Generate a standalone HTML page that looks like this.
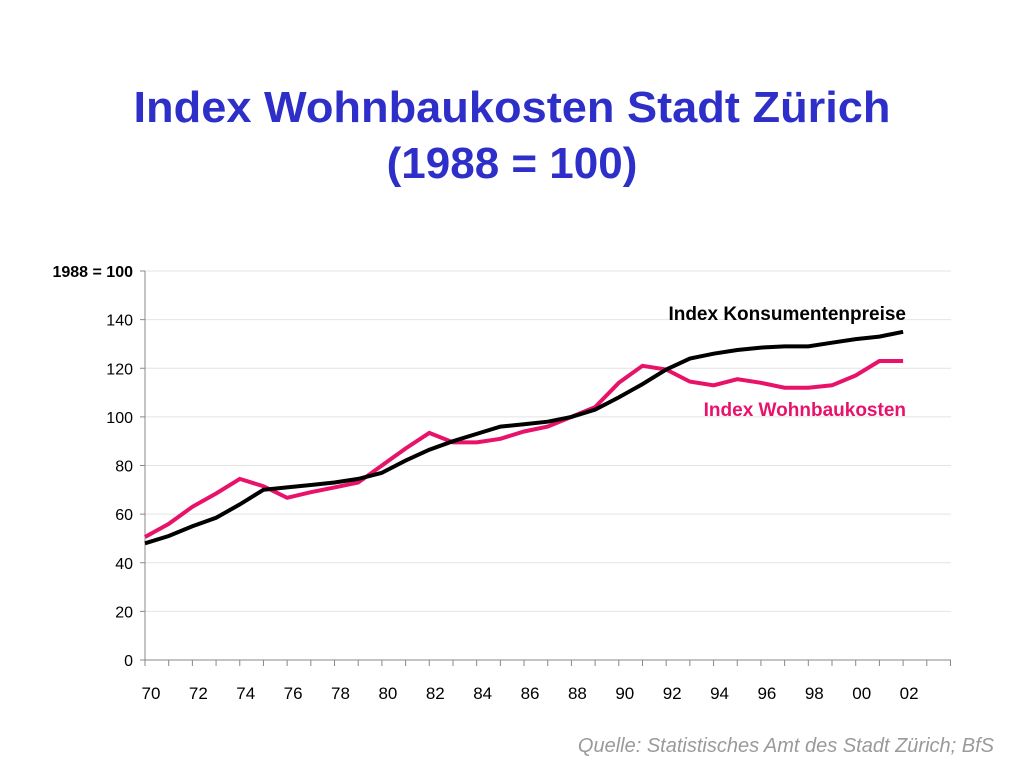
<!DOCTYPE html>
<html><head><meta charset="utf-8"><style>
html,body{margin:0;padding:0;background:#fff;}
svg{display:block;font-family:"Liberation Sans",Arial,sans-serif;}
</style></head><body>
<svg id="chart" width="1024" height="768" viewBox="0 0 1024 768">
<text x="512" y="122" text-anchor="middle" font-size="44" font-weight="bold" fill="#2e2ec8" textLength="757" lengthAdjust="spacingAndGlyphs">Index Wohnbaukosten Stadt Zürich</text>
<text x="512" y="178" text-anchor="middle" font-size="44" font-weight="bold" fill="#2e2ec8">(1988 = 100)</text>
<g id="grid"></g>
<g id="axes"></g>
<g id="series"></g>
<text x="906" y="320" text-anchor="end" font-size="19" font-weight="bold" fill="#000">Index Konsumentenpreise</text>
<text x="906" y="416" text-anchor="end" font-size="19" font-weight="bold" fill="#e8126a">Index Wohnbaukosten</text>
<text x="994" y="752" text-anchor="end" font-size="20" font-style="italic" fill="#9a9a9a">Quelle: Statistisches Amt des Stadt Zürich; BfS</text>
</svg>
<script>
const years = [1970,1971,1972,1973,1974,1975,1976,1977,1978,1979,1980,1981,1982,1983,1984,1985,1986,1987,1988,1989,1990,1991,1992,1993,1994,1995,1996,1997,1998,1999,2000,2001,2002];
const konsumentenpreise = [48,51,55,58.5,64,70,71,72,73,74.5,77,82,86.5,90,93,96,97,98,100,103,108,113.5,119.5,124,126,127.5,128.5,129,129,130.5,132,133,135];
const wohnbaukosten = [50.6,56,63,68.5,74.5,71.5,66.7,69,71,73,80,87,93.4,89.5,89.5,91,94,96,100,104,114,121,119.5,114.5,113,115.5,114,112,112,113,117,123,123];
const yTicks = [0,20,40,60,80,100,120,140];
const xTickLabels = ["70","72","74","76","78","80","82","84","86","88","90","92","94","96","98","00","02"];

const NS="http://www.w3.org/2000/svg";
const x0=145, yearW=23.69, yZero=660, perUnit=(660-271)/160;
const xs=y=>x0+(y-1970)*yearW;
const ys=v=>yZero-v*perUnit;
function mk(tag,attrs,parent){const e=document.createElementNS(NS,tag);for(const k in attrs)e.setAttribute(k,attrs[k]);parent.appendChild(e);return e;}
const grid=document.getElementById('grid'), axes=document.getElementById('axes'), series=document.getElementById('series');

// gridlines (including 160 top line)
[...yTicks,160].forEach(v=>{
  if(v===0)return;
  const l=mk('line',{x1:x0,x2:951,y1:ys(v),y2:ys(v),stroke:'#e4e4e4','stroke-width':1},grid);
  
  
});
// axis lines
const ya=mk('line',{x1:x0,x2:x0,y1:ys(160),y2:yZero,stroke:'#888','stroke-width':1},axes);


const xa=mk('line',{x1:x0,x2:951,y1:yZero,y2:yZero,stroke:'#888','stroke-width':1},axes);


// y ticks & labels
[...yTicks,160].forEach(v=>{
  mk('line',{x1:x0-5,x2:x0,y1:ys(v),y2:ys(v),stroke:'#888'},axes);
  const t=mk('text',{x:x0-12,y:ys(v)+6,'text-anchor':'end','font-size':16,fill:'#000'},axes);
  if(v===160){t.setAttribute('font-weight','bold');t.textContent='1988 = 100';}
  else t.textContent=String(v);
  
  
});
// x ticks
for(let y=1970;y<=2004;y++){
  mk('line',{x1:xs(y),x2:xs(y),y1:yZero,y2:yZero+6,stroke:'#888'},axes);
}
xTickLabels.forEach((lab,i)=>{
  const t=mk('text',{x:xs(1970+2*i)+6,y:yZero+39,'text-anchor':'middle','font-size':17,fill:'#000'},axes);
  t.textContent=lab;
  
  
});
function line(vals,color,name){
  const d=vals.map((v,i)=>(i?'L':'M')+xs(years[i]).toFixed(1)+' '+ys(v).toFixed(1)).join(' ');
  const p=mk('path',{d:d,fill:'none',stroke:color,'stroke-width':4,'stroke-linejoin':'miter'},series);
  
  
}
line(wohnbaukosten,'#e8126a','line-wohnbaukosten');
line(konsumentenpreise,'#000','line-konsumentenpreise');
</script>
</body></html>
